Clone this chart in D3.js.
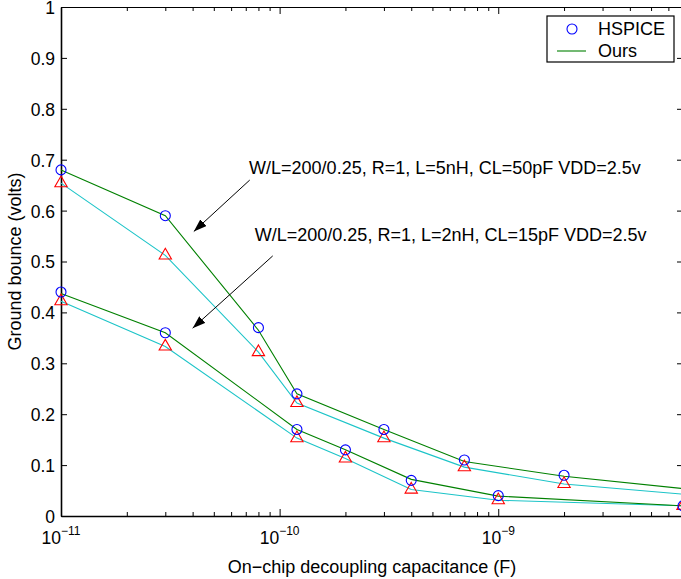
<!DOCTYPE html>
<html>
<head>
<meta charset="utf-8">
<script src="https://cdn.jsdelivr.net/npm/d3@7"></script>
<style>
body { margin: 0; background: #fff; }
text { font-family: "Liberation Sans", Arial, sans-serif; }
</style>
</head>
<body>
<svg id="visualisation" width="681" height="579"></svg>
<script>
// upper case: L=5nH, CL=50pF
var capUpper = [1e-11, 3e-11, 8e-11, 1.2e-10, 3e-10, 7e-10, 2e-9, 1e-8];
var hspiceUpper = [0.68, 0.59, 0.37, 0.24, 0.17, 0.11, 0.08, 0.05];
var oursUpper = [0.68, 0.59, 0.365, 0.24, 0.17, 0.107, 0.078, 0.047];
var otherUpper = [0.654, 0.512, 0.322, 0.222, 0.153, 0.096, 0.063, 0.037];

// lower case: L=2nH, CL=15pF
var capLower = [1e-11, 3e-11, 1.2e-10, 2e-10, 4e-10, 1e-9, 7e-9];
var hspiceLower = [0.44, 0.36, 0.17, 0.13, 0.07, 0.04, 0.02];
var oursLower = [0.437, 0.36, 0.17, 0.13, 0.072, 0.039, 0.02];
var otherLower = [0.422, 0.333, 0.153, 0.113, 0.052, 0.031, 0.02];

var xMajor = [1e-11, 1e-10, 1e-9];
var xMajorExp = ["\u221211", "\u221210", "\u22129"];
var yTicks = [0, 0.1, 0.2, 0.3, 0.4, 0.5, 0.6, 0.7, 0.8, 0.9, 1];
var legendNames = ["HSPICE", "Ours"];

// annotations, in data coordinates
var notes = [
    {text: "W/L=200/0.25, R=1, L=5nH, CL=50pF VDD=2.5v", x: 7.25e-11, y: 0.672,
     from: [7.3e-11, 0.66], to: [4.05e-11, 0.559]},
    {text: "W/L=200/0.25, R=1, L=2nH, CL=15pF VDD=2.5v", x: 7.7e-11, y: 0.541,
     from: [9.3e-11, 0.511], to: [4.0e-11, 0.369]}
];

var vis = d3.select("#visualisation"),
WIDTH = 681,
HEIGHT = 579,
MARGINS = {top: 7, right: 683, bottom: 516, left: 61},

xScale = d3.scaleLog()
    .range([MARGINS.left, MARGINS.right])
    .domain([1e-11, 7e-9]),

yScale = d3.scaleLinear()
    .range([MARGINS.bottom, MARGINS.top])
    .domain([0, 1]);

vis.append("rect").attr("width", WIDTH).attr("height", HEIGHT).attr("fill", "#fff");

// minor ticks 2..9 per decade
var xMinor = [];
[1e-11, 1e-10, 1e-9].forEach(function (d) {
    for (var k = 2; k <= 9; k++) xMinor.push(d * k);
});
xMinor = xMinor.filter(function (d) { return d <= 7e-9; });

function styleAxis(g, w) {
    g.select(".domain").attr("stroke-width", w);
    g.selectAll(".tick line").attr("stroke-width", 1);
    g.attr("font-size", 17.5).attr("font-family", "Liberation Sans, Arial, sans-serif");
}

vis.append("g")
    .attr("transform", "translate(0," + MARGINS.bottom + ")")
    .call(d3.axisBottom(xScale).tickValues(xMinor).tickSizeInner(-4).tickSizeOuter(0).tickFormat(""))
    .call(styleAxis, 1.6);
vis.append("g")
    .attr("transform", "translate(0," + MARGINS.bottom + ")")
    .call(d3.axisBottom(xScale).tickValues(xMajor).tickSizeInner(-7).tickSizeOuter(0).tickFormat(""))
    .call(function (g) { g.select(".domain").remove(); });
vis.append("g")
    .attr("transform", "translate(0," + MARGINS.top + ")")
    .call(d3.axisTop(xScale).tickValues(xMinor).tickSizeInner(-4).tickSizeOuter(0).tickFormat(""))
    .call(styleAxis, 1.2);
vis.append("g")
    .attr("transform", "translate(0," + MARGINS.top + ")")
    .call(d3.axisTop(xScale).tickValues(xMajor).tickSizeInner(-7).tickSizeOuter(0).tickFormat(""))
    .call(function (g) { g.select(".domain").remove(); });

vis.append("g")
    .attr("transform", "translate(" + MARGINS.left + ",0)")
    .call(d3.axisLeft(yScale).tickValues(yTicks).tickSizeInner(-6).tickSizeOuter(0).tickPadding(6)
        .tickFormat(function (d) { return String(d); }))
    .call(styleAxis, 1.6)
    .selectAll("text").attr("fill", "#000").attr("dy", "0.37em");
vis.append("g")
    .attr("transform", "translate(" + MARGINS.right + ",0)")
    .call(d3.axisRight(yScale).tickValues(yTicks).tickSizeInner(-6).tickSizeOuter(0).tickFormat(""))
    .call(styleAxis, 1.2);

// x tick labels 10^n
var xl = vis.append("g").selectAll("text")
    .data(xMajor)
    .enter().append("text")
    .attr("x", function (d) { return xScale(d); })
    .attr("y", 544)
    .attr("font-size", 17.5)
    .attr("text-anchor", "middle");
xl.append("tspan").text("10");
xl.append("tspan")
    .attr("dy", -9)
    .attr("font-size", 12)
    .text(function (d, i) { return xMajorExp[i]; });

vis.append("text")      // text label for the x axis
    .attr("x", (MARGINS.left + MARGINS.right) / 2)
    .attr("y", 573)
    .attr("font-size", 18)
    .style("text-anchor", "middle")
    .text("On\u2212chip decoupling capacitance (F)");

vis.append("text")
    .attr("transform", "rotate(-90)")
    .attr("y", 21)
    .attr("x", -(MARGINS.top + MARGINS.bottom) / 2)
    .attr("font-size", 18)
    .style("text-anchor", "middle")
    .text("Ground bounce (volts)");

var lineGen = d3.line()
    .x(function (d) { return xScale(d[0]); })
    .y(function (d) { return yScale(d[1]); });

function pairs(xs, ys) {
    return xs.map(function (x, i) { return [x, ys[i]]; });
}

var plot = vis.append("g");

[[capUpper, otherUpper], [capLower, otherLower]].forEach(function (s) {
    plot.append("path")
        .attr("d", lineGen(pairs(s[0], s[1])))
        .attr("stroke", "#1cc4c8")
        .attr("stroke-width", 1.1)
        .attr("fill", "none");
});
[[capUpper, oursUpper], [capLower, oursLower]].forEach(function (s) {
    plot.append("path")
        .attr("d", lineGen(pairs(s[0], s[1])))
        .attr("stroke", "#008000")
        .attr("stroke-width", 1.1)
        .attr("fill", "none");
});

var tri = d3.symbol().type(d3.symbolTriangle).size(66);
[[capUpper, otherUpper], [capLower, otherLower]].forEach(function (s) {
    plot.selectAll(null)
        .data(pairs(s[0], s[1]))
        .enter().append("path")
        .attr("d", tri)
        .attr("transform", function (d) { return "translate(" + xScale(d[0]) + "," + yScale(d[1]) + ")"; })
        .attr("stroke", "#ff0000")
        .attr("stroke-width", 1.1)
        .attr("fill", "none");
});
[[capUpper, hspiceUpper], [capLower, hspiceLower]].forEach(function (s) {
    plot.selectAll(null)
        .data(pairs(s[0], s[1]))
        .enter().append("circle")
        .attr("cx", function (d) { return xScale(d[0]); })
        .attr("cy", function (d) { return yScale(d[1]); })
        .attr("r", 5)
        .attr("stroke", "#0000ff")
        .attr("stroke-width", 1.1)
        .attr("fill", "none");
});

// arrows + notes
vis.append("defs").append("marker")
    .attr("id", "head")
    .attr("markerUnits", "userSpaceOnUse")
    .attr("markerWidth", 13).attr("markerHeight", 9)
    .attr("refX", 13).attr("refY", 4.5)
    .attr("orient", "auto")
    .append("path").attr("d", "M0,0L13,4.5L0,9Z").attr("fill", "#000");

notes.forEach(function (n) {
    vis.append("text")
        .attr("x", xScale(n.x))
        .attr("y", yScale(n.y))
        .attr("font-size", 18)
        .text(n.text);
    vis.append("line")
        .attr("x1", xScale(n.from[0])).attr("y1", yScale(n.from[1]))
        .attr("x2", xScale(n.to[0])).attr("y2", yScale(n.to[1]))
        .attr("stroke", "#000")
        .attr("stroke-width", 1)
        .attr("marker-end", "url(#head)");
});

// legend
var lg = vis.append("g");
lg.append("rect")
    .attr("x", 547).attr("y", 16).attr("width", 127).attr("height", 46)
    .attr("fill", "#fff").attr("stroke", "#000").attr("stroke-width", 1.2);
lg.append("circle")
    .attr("cx", 572).attr("cy", 29).attr("r", 5)
    .attr("stroke", "#0000ff").attr("stroke-width", 1.1).attr("fill", "none");
lg.append("line")
    .attr("x1", 557).attr("x2", 586).attr("y1", 51).attr("y2", 51)
    .attr("stroke", "#008000").attr("stroke-width", 1.1);
lg.selectAll("text")
    .data(legendNames)
    .enter().append("text")
    .attr("x", 598)
    .attr("y", function (d, i) { return 35 + i * 21.5; })
    .attr("font-size", 18)
    .text(function (d) { return d; });
</script>
</body>
</html>
